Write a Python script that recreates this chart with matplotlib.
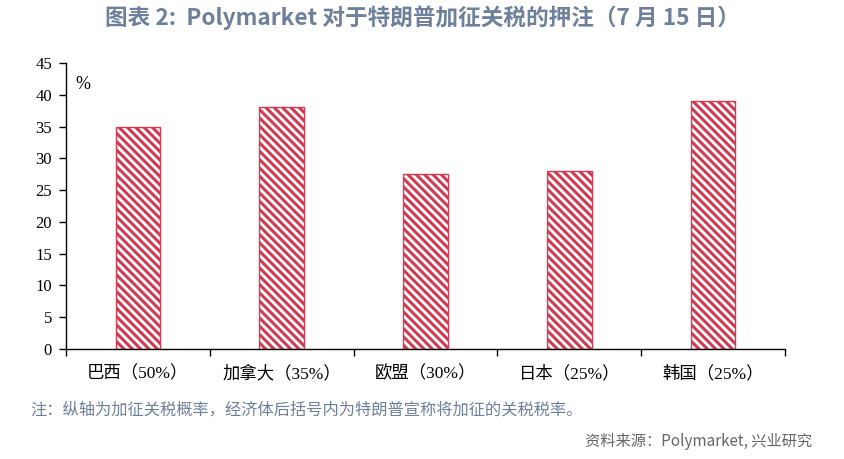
import matplotlib.pyplot as plt
import numpy as np

plt.rcParams['hatch.linewidth'] = 2.2

# data
categories = ['巴西（50%）', '加拿大（35%）', '欧盟（30%）', '日本（25%）', '韩国（25%）']
probs = [35, 38, 27.5, 28, 39]
yticks = list(range(0, 50, 5))

red = '#D23A52'
title_color = '#6E809B'
serif = ['Liberation Serif', 'Noto Sans CJK SC']
cjk = ['Noto Sans CJK SC', 'DejaVu Sans']

fig = plt.figure(figsize=(8.45, 4.59), dpi=100)
ax = fig.add_axes([66/845, 1-349/459, 719/845, 286/459])

x = np.arange(len(categories))
ax.bar(x, probs, width=0.31, color='white', edgecolor=red, hatch='\\\\\\\\', linewidth=1.0)

ax.set_xlim(-0.5, len(categories) - 0.5)
ax.set_ylim(0, 45)
ax.set_yticks(yticks)
ax.set_yticklabels([str(v) for v in yticks], family=serif, fontsize=12)
ax.set_xticks(x)
ax.set_xticklabels(categories, family=serif, fontsize=12.5)
ax.set_xticks(np.arange(-0.5, len(categories)), minor=True)
ax.tick_params(axis='x', which='major', length=0, pad=12)
ax.tick_params(axis='x', which='minor', length=5, direction='out', width=1)
ax.tick_params(axis='y', length=5, direction='out', width=1, pad=5)

for s in ['top', 'right']:
    ax.spines[s].set_visible(False)
for s in ['left', 'bottom']:
    ax.spines[s].set_linewidth(1.0)

ax.text(0.013, 0.955, '%', transform=ax.transAxes, family=serif, fontsize=13, va='top', ha='left')

fig.text(422/845, 1-18/459, '图表 2:  Polymarket 对于特朗普加征关税的押注（7 月 15 日）',
         family=cjk, fontsize=16.3, fontweight='bold', color=title_color, ha='center', va='center')
fig.text(30/845, 1-410/459, '注：纵轴为加征关税概率，经济体后括号内为特朗普宣称将加征的关税税率。',
         family=cjk, fontsize=11.7, color=title_color, ha='left', va='center')
fig.text(812/845, 1-441/459, '资料来源：Polymarket, 兴业研究',
         family=cjk, fontsize=11, color='#666666', ha='right', va='center')

fig.savefig('out.png', dpi=100)
